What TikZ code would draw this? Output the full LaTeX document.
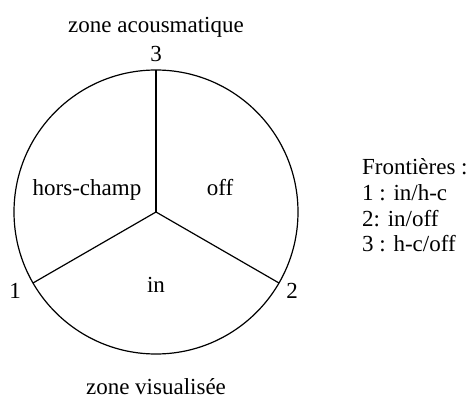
\documentclass[tikz,border=0pt]{standalone}
\usepackage{fontspec}
\setmainfont{Liberation Serif}
\begin{document}
\begin{tikzpicture}[x=1pt,y=-1pt,
  lbl/.style={font=\fontsize{23}{27}\selectfont, inner sep=0pt, anchor=base},
  lblw/.style={font=\fontsize{23}{27}\selectfont, inner sep=0pt, anchor=base west},
  edge/.style={line width=1.2pt, black}]
\useasboundingbox (0,0) rectangle (469,399);
\coordinate (c) at (156,212);
\coordinate (p3) at (156,70);
\coordinate (p1) at (33,283);
\coordinate (p2) at (279,283);
\draw[edge] (c) circle (142pt);
\draw[edge] (c) -- (p3);
\draw[edge] (c) -- (p1);
\draw[edge] (c) -- (p2);
\node[lbl] (za) at (156,32) {zone acousmatique};
\node[lbl] (zv) at (156,394) {zone visualisée};
\node[lbl] (n3) at (156,61) {3};
\node[lbl] (n1) at (15,298) {1};
\node[lbl] (n2) at (292,298) {2};
\node[lbl] (hc) at (87,195) {hors-champ};
\node[lbl] (off) at (220,195) {off};
\node[lbl] (in) at (156,292) {in};
\node[lblw] (f0) at (362,174) {Frontières :};
\node[lblw] (f1) at (362,200) {1 : in/h-c};
\node[lblw] (f2) at (362,226) {2: in/off};
\node[lblw] (f3) at (362,251) {3 : h-c/off};
\end{tikzpicture}
\end{document}
